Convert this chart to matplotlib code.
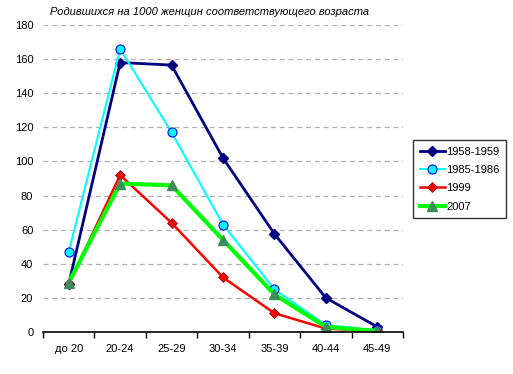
import numpy as np
import matplotlib.pyplot as plt
from matplotlib.ticker import FixedLocator

plt.rcParams['font.family'] = ['Liberation Sans', 'DejaVu Sans']

ages = ['до 20', '20-24', '25-29', '30-34', '35-39', '40-44', '45-49']
y1958 = [28, 158, 156.5, 102, 57.5, 20, 3]
y1985 = [47, 166, 117, 63, 25, 4, 1]
y1999 = [28, 92, 64, 32, 11, 2, 0.5]
y2007 = [29, 87, 86, 54, 22, 3, 0.5]

x = np.arange(len(ages))

fig = plt.figure(figsize=(5.13, 3.74), dpi=100)
ax = fig.add_axes([43/513, 42/374, 360/513, 307/374])

ax.plot(x, y1958, '-', color='#000080', lw=2, marker='D', ms=5.5,
        mfc='#000080', mec='#000080', label='1958-1959', zorder=3)
ax.plot(x, y1985, '-', color='#00ffff', lw=1.5, marker='o', ms=6.5,
        mfc='#00ffff', mec='#0000ff', mew=0.8, label='1985-1986', zorder=3)
ax.plot(x, y1999, '-', color='#ff0000', lw=1.8, marker='D', ms=5.5,
        mfc='#ff0000', mec='#800000', mew=0.5, label='1999', zorder=4)
ax.plot(x, y2007, '-', color='#00ff00', lw=3, marker='^', ms=7,
        mfc='#3c8c5c', mec='#3c8c5c', label='2007', zorder=5)

ax.set_xlim(-0.5, 6.5)
ax.set_ylim(0, 180)
ax.set_yticks(np.arange(0, 181, 20))
ax.set_xticks(x)
ax.set_xticklabels(ages)
ax.xaxis.set_minor_locator(FixedLocator(np.arange(-0.5, 7, 1)))
ax.tick_params(axis='x', which='major', length=0, pad=9, labelsize=8)
ax.tick_params(axis='x', which='minor', length=4, direction='out', width=1)
ax.tick_params(axis='y', length=0, pad=7, labelsize=8)

ax.grid(axis='y', color='#b0b0b0', linestyle=(0, (4, 3)), lw=0.9)
ax.set_axisbelow(True)
for s in ['left', 'right', 'top']:
    ax.spines[s].set_visible(False)
ax.spines['bottom'].set_linewidth(1.2)
ax.spines['bottom'].set_zorder(6)

fig.text(50/513, 1 - 12/374, 'Родившихся на 1000 женщин соответствующего возраста',
         fontsize=8, style='italic', va='center', ha='left')

leg = fig.legend(loc='upper left', bbox_to_anchor=(413/513, 1 - 140/374),
                 fontsize=8, frameon=True, fancybox=False, edgecolor='black',
                 handlelength=2.3, handletextpad=0.1, labelspacing=0.75,
                 borderpad=0.6, borderaxespad=0)
leg.get_frame().set_linewidth(1)

plt.savefig('out.png', dpi=100)
